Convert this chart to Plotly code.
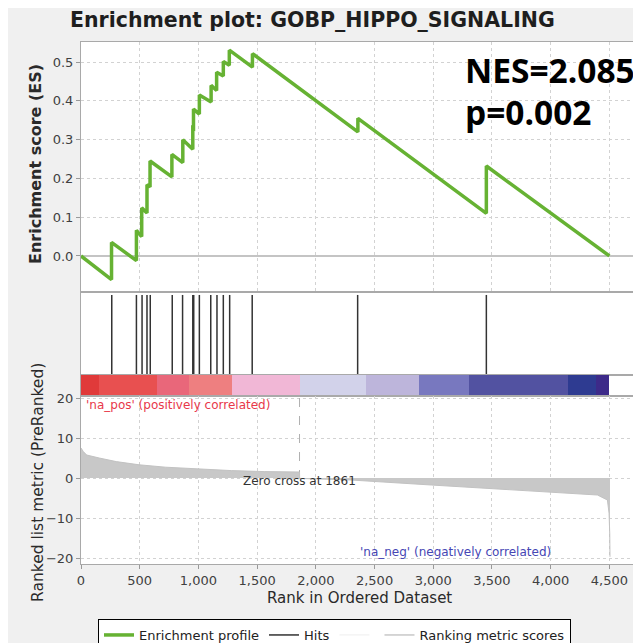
import plotly.graph_objects as go

# ---------------- data ----------------
es_rank = [0, 260, 260, 472, 472, 517, 517, 562, 562, 588, 588, 774, 774, 867, 867,
           952, 952, 958, 958, 1008, 1008, 1108, 1108, 1155, 1155, 1212, 1212,
           1263, 1263, 1460, 1460, 2358, 2358, 3452, 3452, 4500]
es_score = [0.0, -0.061, 0.035, -0.012, 0.066, 0.050, 0.124, 0.111, 0.184, 0.178, 0.245,
            0.204, 0.262, 0.241, 0.300, 0.275, 0.330, 0.329, 0.379, 0.366, 0.415,
            0.397, 0.440, 0.427, 0.474, 0.464, 0.502, 0.492, 0.531, 0.487, 0.522,
            0.320, 0.355, 0.110, 0.232, 0.0]

hit_ranks = [262, 472, 520, 562, 590, 777, 865, 952, 960, 1008, 1105, 1158, 1212,
             1266, 1458, 2356, 3452]

metric_rank = [0, 20, 48, 100, 155, 300, 495, 720, 1000, 1280, 1565, 1861,
               1862, 2300, 2983, 3550, 4116, 4398, 4483, 4497, 4503, 4505]
metric_value = [7.5, 6.6, 5.75, 5.3, 5.0, 4.1, 3.3, 2.7, 2.25, 1.85, 1.6, 1.5,
                -0.1, -0.5, -1.75, -2.8, -3.7, -4.25, -5.5, -8.8, -14.0, -19.7]

zero_cross = 1861

band_start = [0, 150, 650, 920, 1290, 1861, 2430, 2880, 3300, 4150, 4390]
band_end = [150, 650, 920, 1290, 1861, 2430, 2880, 3300, 4150, 4390, 4500]
band_color = ["#e03a3a", "#e85050", "#e9677a", "#ee7f80", "#f1b7d6", "#d2d2ea",
              "#bdb5db", "#7878bf", "#5252a1", "#2e3b91", "#3d2a89"]

x_ticks = [0, 500, 1000, 1500, 2000, 2500, 3000, 3500, 4000, 4500]
es_ticks = [0.0, 0.1, 0.2, 0.3, 0.4, 0.5]
metric_ticks = [-20, -10, 0, 10, 20]

nes_text = "NES=2.085"
p_text = "p=0.002"
title_text = "Enrichment plot: GOBP_HIPPO_SIGNALING"

# ---------------- figure ----------------
# the page body has an 8px margin, so the figure is drawn 8px smaller and
# every reference pixel position is shifted by that offset
OFF = 8
W, H = 641 - OFF, 643 - OFF
PLOT_L, PLOT_R, PLOT_T, PLOT_B = 81, 637, 42, 564   # reference pixels
ML = PLOT_L - OFF
MT = PLOT_T - OFF
MR = W - (PLOT_R - OFF)
MB = H - (PLOT_B - OFF)
PH = H - MT - MB
PW = W - ML - MR


def py(px):
    return (PLOT_B - px) / PH


def pxx(px):
    return (px - PLOT_L) / PW


XMAX = 4735
FONT = "DejaVu Sans"

fig = go.Figure()

# enrichment profile
fig.add_trace(go.Scatter(x=es_rank, y=es_score, mode="lines", name="Enrichment profile",
                         line=dict(color="#66b233", width=3.5), xaxis="x", yaxis="y"))

# hits
hx, hy = [], []
for h in hit_ranks:
    hx += [h, h, None]
    hy += [0, 1, None]
fig.add_trace(go.Scatter(x=hx, y=hy, mode="lines", name="Hits",
                         line=dict(color="#333333", width=1.5), xaxis="x2", yaxis="y2"))

# spacer legend entry (faint, no label)
fig.add_trace(go.Scatter(x=[None], y=[None], mode="lines", name="",
                         line=dict(color="#eeeeee", width=1), xaxis="x", yaxis="y"))

# ranking metric legend entry
fig.add_trace(go.Scatter(x=[None], y=[None], mode="lines", name="Ranking metric scores",
                         line=dict(color="#c8c8c8", width=1.5), xaxis="x", yaxis="y"))

# colour band
fig.add_trace(go.Bar(x=[(a + b) / 2 for a, b in zip(band_start, band_end)],
                     y=[1] * len(band_start),
                     width=[b - a for a, b in zip(band_start, band_end)],
                     marker=dict(color=band_color, line=dict(width=0)),
                     showlegend=False, hoverinfo="skip", xaxis="x3", yaxis="y3"))

# ranked metric
fig.add_trace(go.Scatter(x=metric_rank, y=metric_value, mode="lines", fill="tozeroy",
                         line=dict(color="#c2c2c2", width=1), fillcolor="#c8c8c8",
                         showlegend=False, xaxis="x4", yaxis="y4"))

# zero cross dashed marker
zc_val = metric_value[metric_rank.index(zero_cross)]
fig.add_trace(go.Scatter(x=[zero_cross, zero_cross], y=[metric_ticks[-1], zc_val],
                         mode="lines", line=dict(color="#b0b0b0", width=1, dash="dash"),
                         showlegend=False, xaxis="x4", yaxis="y4"))

grid = dict(showgrid=True, gridcolor="#d2d2d2", griddash="dot", gridwidth=1)
frame = dict(showline=True, mirror=True, linecolor="#a9a9a9", linewidth=1, automargin=False)
tickf = dict(family=FONT, size=13, color="#404040")

d_es = [py(292), 1.0]
d_hit = [py(375), py(292)]
d_bar = [py(396), py(375)]
d_met = [0.0, py(396)]

fig.update_layout(
    width=W, height=H,
    margin=dict(l=ML, r=MR, t=MT, b=MB, autoexpand=False),
    paper_bgcolor="#f0f0f0", plot_bgcolor="#ffffff",
    bargap=0,
    font=dict(family=FONT, color="#222222"),
    xaxis=dict(domain=[0, 1], range=[0, XMAX], tickvals=x_ticks, showticklabels=False,
               ticks="", anchor="y", zeroline=False, **grid, **frame),
    yaxis=dict(domain=d_es, range=[-0.093, 0.552], tickvals=es_ticks, tickformat=".1f",
               ticks="outside", ticklen=4, tickcolor="#999999", tickfont=tickf,
               zeroline=True, zerolinecolor="#c4c4c4", zerolinewidth=2, anchor="x",
               **grid, **frame),
    xaxis2=dict(domain=[0, 1], range=[0, XMAX], showticklabels=False, showgrid=False,
                zeroline=False, anchor="y2", **frame),
    yaxis2=dict(domain=d_hit, range=[0, 1.037], showticklabels=False, showgrid=False,
                zeroline=False, anchor="x2", **frame),
    xaxis3=dict(domain=[0, 1], range=[0, XMAX], showticklabels=False, showgrid=False,
                zeroline=False, anchor="y3", **frame),
    yaxis3=dict(domain=d_bar, range=[0, 1], showticklabels=False, showgrid=False,
                zeroline=False, anchor="x3", **frame),
    xaxis4=dict(domain=[0, 1], range=[0, XMAX], tickvals=x_ticks, tickformat=",d",
                ticks="outside", ticklen=4, tickcolor="#999999", tickfont=tickf,
                zeroline=False, anchor="y4", **grid, **frame),
    yaxis4=dict(domain=d_met, range=[-21.5, 20.5], tickvals=metric_ticks,
                ticks="outside", ticklen=4, tickcolor="#999999", tickfont=tickf,
                zeroline=False, anchor="x4", **grid, **frame),
    legend=dict(orientation="h", x=pxx(98), y=py(619), xanchor="left", yanchor="top",
                bgcolor="#ffffff", bordercolor="#000000", borderwidth=1,
                font=dict(family=FONT, size=13, color="#222222"), itemwidth=30,
                traceorder="normal"),
    showlegend=True,
)

ann = [
    dict(text="<b>" + title_text + "</b>", x=pxx(312), y=py(20), xref="paper", yref="paper",
         showarrow=False, xanchor="center", yanchor="middle",
         font=dict(family=FONT, size=20.5, color="#1e1e1e")),
    dict(text="<b>" + nes_text + "</b>", x=pxx(463), y=py(70), xref="paper", yref="paper",
         showarrow=False, xanchor="left", yanchor="middle",
         font=dict(family="Open Sans", size=33.5, color="#000000")),
    dict(text="<b>" + p_text + "</b>", x=pxx(463), y=py(112), xref="paper", yref="paper",
         showarrow=False, xanchor="left", yanchor="middle",
         font=dict(family="Open Sans", size=33.5, color="#000000")),
    dict(text="<b>Enrichment score (ES)</b>", x=pxx(35), y=py(164), xref="paper", yref="paper",
         showarrow=False, textangle=-90, xanchor="center", yanchor="middle",
         font=dict(family=FONT, size=16, color="#2a2a2a")),
    dict(text="Ranked list metric (PreRanked)", x=pxx(38), y=py(483), xref="paper",
         yref="paper", showarrow=False, textangle=-90, xanchor="center", yanchor="middle",
         font=dict(family=FONT, size=15.5, color="#2a2a2a")),
    dict(text="Rank in Ordered Dataset", x=pxx(359), y=py(598), xref="paper", yref="paper",
         showarrow=False, xanchor="center", yanchor="middle",
         font=dict(family=FONT, size=15, color="#2a2a2a")),
    dict(text="'na_pos' (positively correlated)", x=25, y=18.3, xref="x4", yref="y4",
         showarrow=False, xanchor="left", yanchor="middle",
         font=dict(family=FONT, size=12, color="#e8384a")),
    dict(text="Zero cross at " + str(zero_cross), x=zero_cross, y=-0.8, xref="x4", yref="y4",
         showarrow=False, xanchor="center", yanchor="middle",
         font=dict(family=FONT, size=12, color="#333333")),
    dict(text="'na_neg' (negatively correlated)", x=3190, y=-18.5, xref="x4", yref="y4",
         showarrow=False, xanchor="center", yanchor="middle",
         font=dict(family=FONT, size=12, color="#4646b4")),
]
fig.update_layout(annotations=ann)

fig.write_html("out.html")
